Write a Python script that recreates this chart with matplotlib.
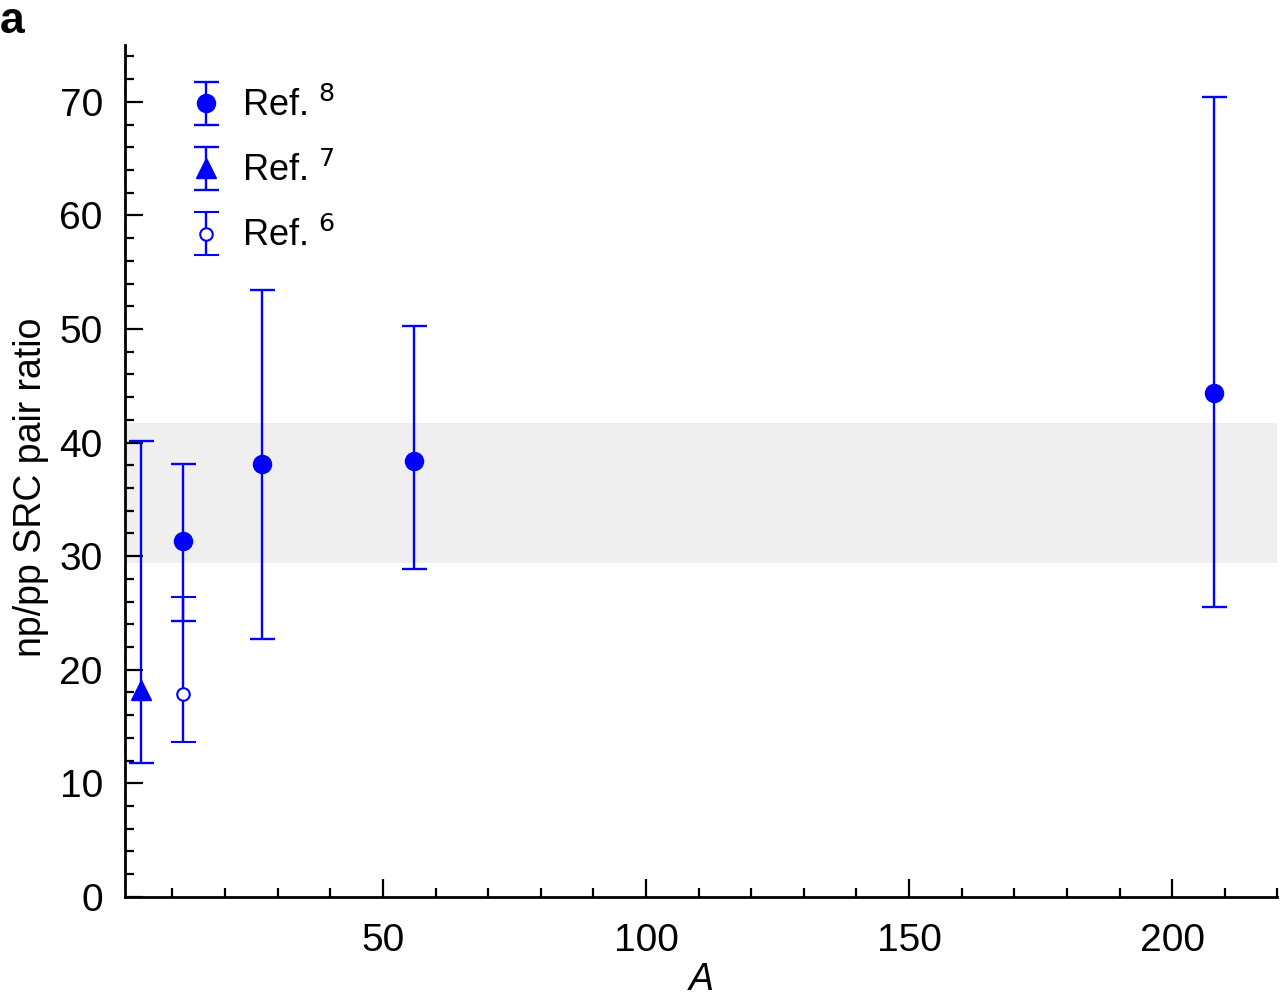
import numpy as np
import matplotlib
matplotlib.use("Agg")
import matplotlib.pyplot as plt
from matplotlib.legend_handler import HandlerErrorbar
from matplotlib.ticker import MultipleLocator

plt.rcParams['font.family'] = ['Liberation Sans', 'DejaVu Sans']

# data
ref8_A = [12, 27, 56, 208]
ref8_val = [31.3, 38.1, 38.4, 44.4]
ref8_lo = [24.3, 22.7, 28.9, 25.5]
ref8_hi = [38.1, 53.4, 50.3, 70.4]

ref7_A = [4]
ref7_val = [18.2]
ref7_lo = [11.8]
ref7_hi = [40.1]

ref6_A = [12]
ref6_val = [17.9]
ref6_lo = [13.6]
ref6_hi = [26.4]

band_lo, band_hi = 29.4, 41.7

blue = '#0000ff'

fig = plt.figure(figsize=(12.8, 10.01), dpi=100)
ax = fig.add_axes([0.0977, 0.104, 0.9003, 0.851])

ax.axhspan(band_lo, band_hi, color='#efeff0', lw=0, zorder=0)

def err(v, lo, hi):
    v = np.array(v); lo = np.array(lo); hi = np.array(hi)
    return [v - lo, hi - v]

ekw = dict(color=blue, ecolor=blue, elinewidth=1.7, capsize=9, capthick=1.7, ls='none')
h8 = ax.errorbar(ref8_A, ref8_val, yerr=err(ref8_val, ref8_lo, ref8_hi),
                 fmt='o', ms=13, mfc=blue, mec=blue, **ekw, label='Ref. $^{8}$')
h7 = ax.errorbar(ref7_A, ref7_val, yerr=err(ref7_val, ref7_lo, ref7_hi),
                 fmt='^', ms=14, mfc=blue, mec=blue, **ekw, label='Ref. $^{7}$')
h6 = ax.errorbar(ref6_A, ref6_val, yerr=err(ref6_val, ref6_lo, ref6_hi),
                 fmt='o', ms=9, mfc='white', mec=blue, mew=1.5, **ekw, label='Ref. $^{6}$')

ax.set_xlim(1, 220)
ax.set_ylim(0, 75)
ax.xaxis.set_minor_locator(MultipleLocator(10))
ax.yaxis.set_major_locator(MultipleLocator(10))
ax.yaxis.set_minor_locator(MultipleLocator(2))
ax.set_xticks([50, 100, 150, 200])

for s in ['top', 'right']:
    ax.spines[s].set_visible(False)
for s in ['left', 'bottom']:
    ax.spines[s].set_linewidth(2)
ax.tick_params(which='major', direction='in', length=13, width=1.6, labelsize=28, pad=16)
ax.tick_params(which='minor', direction='in', length=6.5, width=1.6)
ax.tick_params(axis='x', which='major', pad=19)

ax.set_ylabel('np/pp SRC pair ratio', fontsize=27)
ax.yaxis.set_label_coords(-0.066, 0.481)
ax.set_xlabel('A', fontsize=27, style='italic')
ax.xaxis.set_label_coords(0.5, -0.077)

ax.legend(handles=[h8, h7, h6], loc='upper left', bbox_to_anchor=(0.026, 0.988),
          frameon=False, fontsize=26, numpoints=1, labelspacing=0.8,
          handlelength=1.0, handletextpad=0.5,
          handler_map={type(h8): HandlerErrorbar(yerr_size=0.6)})

fig.text(0.0, 0.999, 'a', fontsize=32, fontweight='bold', va='top', ha='left')

fig.savefig('out.png', dpi=100)
